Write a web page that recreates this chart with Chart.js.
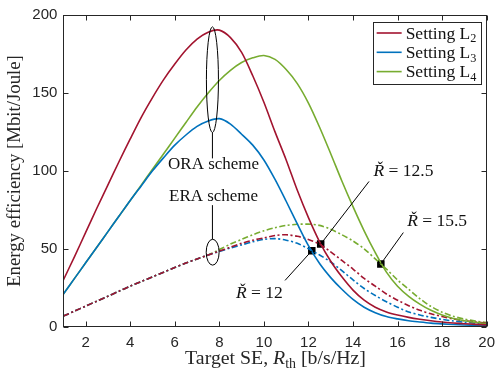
<!DOCTYPE html>
<html>
<head>
<meta charset="utf-8">
<script src="https://cdn.jsdelivr.net/npm/chart.js@4.4.0/dist/chart.umd.min.js"></script>
<style>
html, body { margin: 0; padding: 0; background: #fff; }
#wrap { width: 502px; height: 370px; }
</style>
</head>
<body>
<div id="wrap"><canvas id="eeChart"></canvas></div>
<script>
// target SE values (b/s/Hz)
var rates = [1, 1.5, 2, 2.5, 3, 3.5, 4, 4.5, 5, 5.5, 6, 6.5, 7, 7.5, 8, 8.5, 9, 9.5, 10, 10.5,
    11, 11.5, 12, 12.5, 13, 13.5, 14, 14.5, 15, 15.5, 16, 16.5, 17, 17.5, 18, 18.5, 19, 19.5, 20];

// ORA scheme (solid)
var oraL2 = [30, 45, 60.5, 76, 91, 106, 120.5, 134.5, 147, 158.5, 168.5, 177.5, 184.5, 189, 190.3, 185.5, 176, 161, 144, 125,
    107, 87.5, 70, 54.5, 42, 32, 23.5, 17, 12.5, 9.5, 7.5, 6, 4.8, 3.8, 3, 2.4, 1.9, 1.5, 1.2];
var oraL3 = [21, 31, 41, 51, 61, 71, 81, 90.5, 100, 108.5, 116.5, 123, 128.5, 132, 133.5, 130, 123.5, 116.5, 107, 94.5,
    80.5, 66, 52, 40.5, 31.5, 24, 17.5, 12.5, 9, 6.5, 5, 3.8, 3, 2.3, 1.8, 1.4, 1.1, 0.9, 0.7];
var oraL4 = [21, 31, 41, 51, 61, 71, 81, 91, 101, 111, 121, 131, 141, 150, 158, 164.5, 169.5, 172.5, 174, 171.5,
    165, 156, 143.5, 128, 111, 93.5, 77, 61.5, 47.5, 35, 26, 19.5, 14.5, 10.5, 7.5, 5.3, 3.8, 2.7, 1.9];

// ERA scheme (dash-dot)
var eraL2 = [6.8, 10, 13.2, 16.4, 19.6, 22.8, 26, 29, 32, 35, 38, 40.8, 43.5, 46, 48.5, 51, 53.5, 55.5, 57, 58.5,
    59, 58, 56, 53, 48, 42.5, 37, 31, 26, 21, 17, 13.5, 10.5, 8.3, 6.5, 5, 3.8, 3, 2.3];
var eraL3 = [6.8, 10, 13.2, 16.4, 19.6, 22.8, 26, 29, 32, 35, 38, 40.8, 43.5, 46, 48.3, 50.5, 52.5, 54.5, 56, 56.5,
    55.5, 53.5, 50, 46, 41.5, 36, 30, 24.5, 20, 16, 12.5, 9.5, 7.5, 6, 4.7, 3.7, 2.9, 2.3, 1.8];
var eraL4 = [6.8, 10, 13.2, 16.4, 19.6, 22.8, 26, 29, 32, 35, 38, 40.8, 43.5, 46, 49.5, 53, 56, 59, 61.5, 63.5,
    65, 65.7, 65.8, 65, 62.5, 59, 55, 50, 43.5, 37, 30, 24, 18, 13, 9.3, 6.7, 4.9, 3.6, 2.7];

// crossing points R-check
var markerX = [12.15, 12.55, 15.25];
var markerY = [48.7, 53, 40.3];

var xTicks = [2, 4, 6, 8, 10, 12, 14, 16, 18, 20];
var yTicks = [0, 50, 100, 150, 200];

var legendNames = ['L', 'L', 'L'];
var legendSubs = ['2', '3', '4'];

var red = '#A2142F', blue = '#0072BD', green = '#77AC30';
var axisColor = '#262626';
var serif = '"Liberation Serif", "Times New Roman", serif';
var eraDash = [6, 2.5, 2, 2.5];

function pts(ys) {
    return rates.map(function (x, i) { return { x: x, y: ys[i] }; });
}

function line(ys, color, dashed) {
    return {
        data: pts(ys),
        borderColor: color,
        backgroundColor: color,
        borderWidth: 1.6,
        borderDash: dashed ? eraDash : [],
        pointRadius: 0,
        tension: 0.3,
        fill: false
    };
}

// text made of runs: {t, it, sub}
function runsWidth(ctx, runs, size) {
    var w = 0;
    runs.forEach(function (r) {
        var s = r.sub ? size * 0.7 : size;
        ctx.font = (r.it ? 'italic ' : '') + s + 'px ' + serif;
        w += ctx.measureText(r.t).width;
    });
    return w;
}

function drawRuns(ctx, runs, x, y, size, align) {
    var w = runsWidth(ctx, runs, size);
    var cx = align === 'center' ? x - w / 2 : x;
    ctx.textAlign = 'left';
    ctx.textBaseline = 'alphabetic';
    runs.forEach(function (r) {
        var s = r.sub ? size * 0.7 : size;
        ctx.font = (r.it ? 'italic ' : '') + s + 'px ' + serif;
        ctx.fillText(r.t, cx, r.sub ? y + size * 0.22 : y);
        cx += ctx.measureText(r.t).width;
    });
}

function fitSize(ctx, runs, target) {
    return 20 * target / runsWidth(ctx, runs, 20);
}

var decor = {
    id: 'decor',
    afterDatasetsDraw: function (chart) {
        var ctx = chart.ctx, a = chart.chartArea;
        var xs = chart.scales.x, ys = chart.scales.y;
        var px = function (v) { return xs.getPixelForValue(v); };
        var py = function (v) { return ys.getPixelForValue(v); };
        ctx.save();

        // box with inward ticks
        ctx.strokeStyle = axisColor;
        ctx.lineWidth = 1;
        var L = Math.round(a.left) + 0.5, R = Math.round(a.right) - 0.5;
        var T = Math.round(a.top) + 0.5, B = Math.round(a.bottom) - 0.5;
        ctx.strokeRect(L, T, R - L, B - T);
        ctx.beginPath();
        xTicks.forEach(function (v) {
            var x = Math.round(px(v)) + 0.5;
            ctx.moveTo(x, B); ctx.lineTo(x, B - 5);
            ctx.moveTo(x, T); ctx.lineTo(x, T + 5);
        });
        yTicks.forEach(function (v) {
            var y = Math.round(py(v)) + 0.5;
            ctx.moveTo(L, y); ctx.lineTo(L + 5, y);
            ctx.moveTo(R, y); ctx.lineTo(R - 5, y);
        });
        ctx.stroke();

        // annotations
        ctx.strokeStyle = '#000';
        ctx.fillStyle = '#111';
        ctx.lineWidth = 1;
        ctx.beginPath();
        ctx.ellipse(px(7.69), py(158.5), px(7.96) - px(7.69), py(124.6) - py(158.5), 0, 0, Math.PI * 2);
        ctx.stroke();
        ctx.beginPath();
        ctx.ellipse(px(7.7), py(47.8), px(7.99) - px(7.7), py(39.5) - py(47.8), 0, 0, Math.PI * 2);
        ctx.stroke();

        var leaders = [
            [7.69, 124.6, 7.69, 108],
            [7.69, 78, 7.69, 56.1],
            [12.55, 53, 14.72, 93.2],
            [15.25, 40.3, 16.26, 60.4],
            [12.15, 48.7, 10.95, 29.7]
        ];
        ctx.beginPath();
        leaders.forEach(function (l) {
            ctx.moveTo(px(l[0]), py(l[1]));
            ctx.lineTo(px(l[2]), py(l[3]));
        });
        ctx.stroke();

        var fs = fitSize(ctx, [{ t: 'ORA scheme' }], 91);
        drawRuns(ctx, [{ t: 'ORA scheme' }], px(7.74), py(100.9), fs, 'center');
        drawRuns(ctx, [{ t: 'ERA scheme' }], px(7.74), py(80.5), fs, 'center');
        var r1 = [{ t: 'Ř', it: true }, { t: ' = 12.5' }];
        var r2 = [{ t: 'Ř', it: true }, { t: ' = 15.5' }];
        var r3 = [{ t: 'Ř', it: true }, { t: ' = 12' }];
        var rs = fitSize(ctx, r1, 60);
        drawRuns(ctx, r1, px(14.92), py(96.4), rs);
        drawRuns(ctx, r2, px(16.43), py(64.6), rs);
        drawRuns(ctx, r3, px(8.75), py(18.2), rs);

        // axis titles
        var xt = [{ t: 'Target SE, ' }, { t: 'R', it: true }, { t: 'th', sub: true }, { t: ' [b/s/Hz]' }];
        ctx.fillStyle = axisColor;
        drawRuns(ctx, xt, (a.left + a.right) / 2 + 0.5, 364, fitSize(ctx, xt, 181), 'center');
        var yt = [{ t: 'Energy efficiency [Mbit/Joule]' }];
        ctx.save();
        ctx.translate(19.5, 171);
        ctx.rotate(-Math.PI / 2);
        drawRuns(ctx, yt, 0, 0, fitSize(ctx, yt, 232), 'center');
        ctx.restore();

        // legend
        var lx = a.right - 114, ly = a.top + 6.5;
        ctx.fillStyle = '#fff';
        ctx.fillRect(lx, ly, 108, 62);
        ctx.strokeStyle = axisColor;
        ctx.lineWidth = 1;
        ctx.strokeRect(Math.round(lx) + 0.5, Math.round(ly) + 0.5, 108, 62);
        var colors = [red, blue, green];
        colors.forEach(function (c, i) {
            var y = ly + 11.5 + i * 19.3;
            ctx.strokeStyle = c;
            ctx.lineWidth = 1.6;
            ctx.beginPath();
            ctx.moveTo(lx + 4, y); ctx.lineTo(lx + 29, y);
            ctx.stroke();
            ctx.fillStyle = '#111';
            drawRuns(ctx, [{ t: 'Setting ' + legendNames[i] }, { t: legendSubs[i], sub: true }], lx + 33, y + 5.5, fs * 1.03);
        });
        ctx.restore();
    }
};

var el = document.getElementById('eeChart').getContext('2d');
var eeChart = new Chart(el, {
    type: 'line',
    data: {
        datasets: [
            line(oraL2, red, false),
            line(oraL3, blue, false),
            line(oraL4, green, false),
            line(eraL2, red, true),
            line(eraL3, blue, true),
            line(eraL4, green, true),
            {
                type: 'scatter',
                data: markerX.map(function (x, i) { return { x: x, y: markerY[i] }; }),
                pointStyle: 'rect',
                pointRadius: 5.3,
                backgroundColor: '#000',
                borderColor: '#000',
                borderWidth: 0,
                showLine: false
            }
        ]
    },
    options: {
        responsive: true,
        maintainAspectRatio: false,
        animation: false,
        devicePixelRatio: 1,
        layout: { padding: { left: 0, top: 12, right: 9.5, bottom: 0 } },
        plugins: { legend: { display: false }, tooltip: { enabled: false } },
        scales: {
            x: {
                type: 'linear',
                min: 1,
                max: 20,
                grid: { display: false, drawTicks: false },
                border: { display: false },
                afterBuildTicks: function (s) { s.ticks = xTicks.map(function (v) { return { value: v }; }); },
                afterFit: function (s) { s.height = 43.3; },
                ticks: {
                    color: axisColor,
                    padding: 7,
                    maxRotation: 0,
                    font: { family: '"Liberation Sans", Arial, sans-serif', size: 15 }
                }
            },
            y: {
                min: 0,
                max: 200,
                grid: { display: false, drawTicks: false },
                border: { display: false },
                afterBuildTicks: function (s) { s.ticks = yTicks.map(function (v) { return { value: v }; }); },
                afterFit: function (s) { s.width = 63.4; },
                ticks: {
                    color: axisColor,
                    padding: 6,
                    font: { family: '"Liberation Sans", Arial, sans-serif', size: 15 }
                }
            }
        }
    },
    plugins: [decor]
});
</script>
</body>
</html>
